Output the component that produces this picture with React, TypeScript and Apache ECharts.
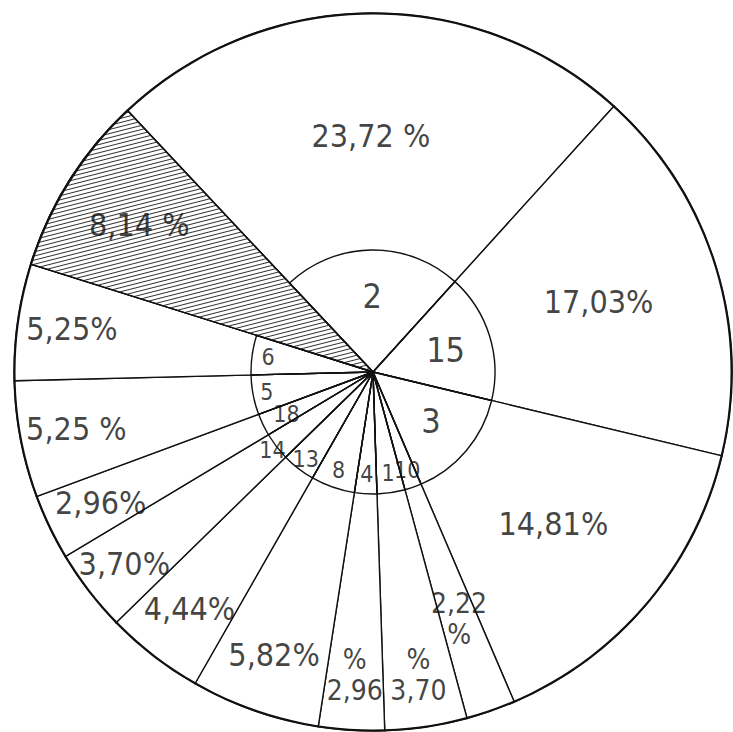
import React, { useEffect, useRef } from "react";
import * as echarts from "echarts";

// ---- data (clockwise from the large top slice) ----
const groupIds = ["2", "15", "3", "10", "1", "4", "8", "13", "14", "18", "5", "6", ""];
const shares = [23.72, 17.03, 14.81, 2.22, 3.7, 2.96, 5.82, 4.44, 3.7, 2.96, 5.25, 5.25, 8.14];
const shareLabels = [
  "23,72 %",
  "17,03%",
  "14,81%",
  "2,22\n%",
  "%\n3,70",
  "%\n2,96",
  "5,82%",
  "4,44%",
  "3,70%",
  "2,96%",
  "5,25 %",
  "5,25%",
  "8,14 %",
];
const hatchedIndex = 12;

// ---- layout ----
const CX = 373;
const CY = 372;
const R = 359;
const R_INNER = 122;
const START = 133.2;
const INK = "#111111";
const FONT = "'DejaVu Sans Condensed', 'DejaVu Sans', sans-serif";

// label distance from the centre (pixels), per slice position
const outerLabelRadius = [236, 236, 236, 262, 306, 304, 300, 300, 314, 302, 302, 304, 276];
const innerLabelRadius = [76, 76, 76, 104, 102, 102, 104, 110, 127, 96, 108, 106, 0];
const innerBigCount = 3;
const stackedOuter = [3, 4, 5];

const total = shares.reduce((a, b) => a + b, 0);
const mids = shares.map((v, i) => shares.slice(0, i).reduce((a, b) => a + b, 0) + v / 2);

function labelScatter(points: any[], fontSize: number) {
  return {
    type: "scatter",
    coordinateSystem: "polar",
    symbolSize: 0,
    silent: true,
    itemStyle: { color: "transparent" },
    label: {
      show: true,
      position: "inside",
      align: "center",
      verticalAlign: "middle",
      color: INK,
      fontFamily: FONT,
      fontWeight: "normal",
      fontSize,
      lineHeight: Math.round(fontSize * 1.12),
      formatter: (p: any) => p.data.text,
    },
    data: points,
    z: 10,
  };
}

export default function App() {
  const ref = useRef<HTMLDivElement>(null);
  useEffect(() => {
    document.body.style.margin = "0";
    const chart = echarts.init(ref.current!, undefined, { renderer: "svg" });

    const outerFlat = shares
      .map((_, i) => i)
      .filter((i) => !stackedOuter.includes(i))
      .map((i) => ({ value: [outerLabelRadius[i], mids[i]], text: shareLabels[i] }));
    const outerStacked = stackedOuter.map((i) => ({ value: [outerLabelRadius[i], mids[i]], text: shareLabels[i] }));
    const innerAll = groupIds
      .map((g, i) => ({ g, i }))
      .filter(({ g }) => g !== "");
    const innerBig = innerAll
      .filter(({ i }) => i < innerBigCount)
      .map(({ g, i }) => ({ value: [innerLabelRadius[i], mids[i]], text: g }));
    const innerSmall = innerAll
      .filter(({ i }) => i >= innerBigCount)
      .map(({ g, i }) => ({ value: [innerLabelRadius[i], mids[i]], text: g }));

    const option: any = {
      animation: false,
      backgroundColor: "#ffffff",
      polar: { center: [CX, CY], radius: R },
      angleAxis: {
        type: "value",
        min: 0,
        max: total,
        startAngle: START,
        clockwise: true,
        show: false,
      },
      radiusAxis: { type: "value", min: 0, max: R, show: false },
      series: [
        {
          type: "pie",
          center: [CX, CY],
          radius: [0, R],
          startAngle: START,
          clockwise: true,
          silent: true,
          label: { show: false },
          labelLine: { show: false },
          emphasis: { disabled: true },
          itemStyle: { color: "#ffffff", borderColor: INK, borderWidth: 1.4 },
          data: shares.map((v, i) =>
            i === hatchedIndex
              ? {
                  value: v,
                  name: "s" + i,
                  itemStyle: {
                    color: "#ffffff",
                    decal: {
                      symbol: "rect",
                      symbolSize: 1,
                      dashArrayX: [1, 0],
                      dashArrayY: [1, 3],
                      rotation: -0.25,
                      color: "#333333",
                    },
                  },
                }
              : { value: v, name: "s" + i }
          ),
          z: 1,
        },
        {
          type: "pie",
          center: [CX, CY],
          radius: [R - 1.5, R + 0.5],
          silent: true,
          label: { show: false },
          labelLine: { show: false },
          emphasis: { disabled: true },
          itemStyle: { color: INK, borderWidth: 0 },
          data: [{ value: 1, name: "rim" }],
          z: 2,
        },
        {
          type: "pie",
          center: [CX, CY],
          radius: [0, R_INNER],
          startAngle: START,
          clockwise: true,
          silent: true,
          label: { show: false },
          labelLine: { show: false },
          emphasis: { disabled: true },
          itemStyle: { color: "transparent", borderColor: INK, borderWidth: 1.4 },
          data: shares.map((v, i) =>
            i === hatchedIndex
              ? { value: v, name: "s" + i, itemStyle: { borderColor: "transparent", borderWidth: 0 } }
              : { value: v, name: "s" + i }
          ),
          z: 3,
        },
        labelScatter(outerFlat, 32),
        labelScatter(outerStacked, 28),
        labelScatter(innerBig, 34),
        labelScatter(innerSmall, 23),
      ],
    };
    chart.setOption(option);
    return () => chart.dispose();
  }, []);
  return <div ref={ref} style={{ width: 733, height: 732 }} />;
}
